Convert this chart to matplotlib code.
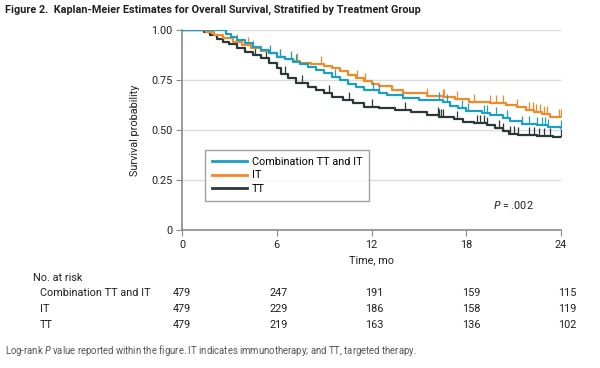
import matplotlib
matplotlib.use("Agg")
import matplotlib.pyplot as plt
import matplotlib.transforms as mtransforms
from matplotlib import font_manager
from matplotlib.textpath import TextPath
import numpy as np

# pick the narrowest available family
fam = "Roboto"
for cand in ["DejaVu Sans Condensed", "Liberation Sans Narrow", "Roboto"]:
    try:
        font_manager.findfont(font_manager.FontProperties(family=cand), fallback_to_default=False)
        fam = cand
        break
    except Exception:
        pass
plt.rcParams['font.family'] = [fam, 'DejaVu Sans']


def size_for(text, px, weight='normal'):
    w = TextPath((0, 0), text, size=10,
                 prop=font_manager.FontProperties(family=fam, weight=weight)).get_extents().width
    return 10 * (px * 72 / 100) / w


groups = ["Combination TT and IT", "IT", "TT"]
colors = {"Combination TT and IT": "#1b9fc2", "IT": "#f28a26", "TT": "#2b3838"}

combo_t = [0, 2.8, 3.1, 3.5, 4.0, 4.5, 5.0, 5.5, 6.0, 6.5, 7.0, 7.5, 8.0, 8.5, 9.0, 9.5, 10.0, 10.5, 11.0, 11.5, 12.5, 13.0, 14.0, 15.0, 16.5, 17.0, 17.5, 18.0, 19.0, 19.5, 20.3, 20.8, 21.5, 22.5, 23.2, 24.0]
combo_s = [1.0, 0.98, 0.965, 0.95, 0.935, 0.915, 0.90, 0.885, 0.865, 0.855, 0.84, 0.83, 0.815, 0.80, 0.785, 0.765, 0.75, 0.73, 0.715, 0.70, 0.683, 0.675, 0.66, 0.65, 0.64, 0.62, 0.61, 0.595, 0.585, 0.575, 0.56, 0.545, 0.53, 0.525, 0.515, 0.51]
combo_cens = [2.66, 5.6, 6.2, 6.9, 7.2, 9.7, 12.1, 12.5, 16.3, 16.8, 17.7, 18.1, 19.1, 19.3, 19.9, 20.6, 21.5, 22.0, 22.5, 22.8, 23.0, 23.2, 24.0]

it_t = [0, 1.5, 2.0, 2.6, 3.2, 3.8, 4.4, 5.0, 5.5, 6.0, 6.5, 7.0, 7.5, 8.2, 9.0, 9.5, 10.0, 10.5, 11.0, 11.5, 12.0, 12.5, 13.3, 14.0, 15.5, 16.5, 17.3, 18.2, 19.5, 20.5, 21.2, 21.8, 22.3, 22.8, 23.3, 24.0]
it_s = [1.0, 0.99, 0.975, 0.96, 0.94, 0.925, 0.91, 0.895, 0.885, 0.867, 0.855, 0.845, 0.835, 0.828, 0.82, 0.81, 0.795, 0.775, 0.76, 0.745, 0.73, 0.72, 0.70, 0.683, 0.672, 0.665, 0.655, 0.642, 0.633, 0.625, 0.615, 0.60, 0.59, 0.58, 0.567, 0.563]
it_cens = [3.46, 4.2, 4.5, 6.2, 7.3, 8.8, 11.1, 11.6, 15.5, 16.5, 16.6, 17.4, 18.5, 19.5, 19.9, 20.3, 21.2, 22.0, 22.2, 22.4, 22.7, 22.9, 23.1, 23.9, 24.0]

tt_t = [0, 1.4, 1.8, 2.2, 2.6, 3.0, 3.5, 4.0, 4.5, 5.0, 5.5, 6.0, 6.3, 6.7, 7.2, 8.0, 8.5, 9.0, 9.5, 10.2, 10.8, 11.5, 12.5, 13.5, 14.5, 15.5, 16.3, 17.2, 17.8, 18.5, 19.3, 19.8, 20.3, 20.7, 21.3, 22.5, 23.5, 24.0]
tt_s = [1.0, 0.99, 0.975, 0.955, 0.94, 0.93, 0.91, 0.89, 0.875, 0.86, 0.835, 0.81, 0.78, 0.76, 0.735, 0.715, 0.70, 0.683, 0.667, 0.65, 0.635, 0.617, 0.61, 0.60, 0.59, 0.575, 0.567, 0.555, 0.542, 0.535, 0.525, 0.51, 0.495, 0.48, 0.475, 0.47, 0.467, 0.465]
tt_cens = [4.6, 5.3, 6.5, 7.6, 9.3, 10.6, 12.0, 14.1, 16.2, 16.3, 16.4, 16.5, 17.4, 18.7, 18.9, 19.1, 19.3, 20.1, 20.3, 20.8, 21.0, 21.3, 22.0, 22.3, 22.6, 22.9, 23.3, 24.0]

curves = {
    "Combination TT and IT": (combo_t, combo_s, combo_cens),
    "IT": (it_t, it_s, it_cens),
    "TT": (tt_t, tt_s, tt_cens),
}

risk_times = [0, 6, 12, 18, 24]
risk_combo = [479, 247, 191, 159, 115]
risk_it = [479, 229, 186, 158, 119]
risk_tt = [479, 219, 163, 136, 102]
risk = {"Combination TT and IT": risk_combo, "IT": risk_it, "TT": risk_tt}

title = "Figure 2.  Kaplan-Meier Estimates for Overall Survival, Stratified by Treatment Group"
foot = "Log-rank P value reported within the figure. IT indicates immunotherapy; and TT, targeted therapy."

fs = size_for("Combination TT and IT", 110)
fs_title = size_for(title, 414, 'bold')
fs_foot = size_for(foot, 412)
txt = "#231f20"

fig = plt.figure(figsize=(6.0, 3.68), dpi=100)
ax = fig.add_axes([182/600, 1-230/368, (561-182)/600, 200/368])

for g in ["TT", "IT", "Combination TT and IT"]:
    t, s, c = curves[g]
    ax.step(t, s, where='post', color=colors[g], lw=1.6, label=g, zorder=3)
    idx = np.searchsorted(t, c, side='right') - 1
    cs = np.array(s)[idx]
    ax.plot(c, cs, linestyle='none', marker=2, markersize=6, markeredgewidth=0.9,
            color=colors[g], zorder=3)

ax.set_xlim(0, 24)
ax.set_ylim(0, 1.0)
ax.set_xticks(risk_times)
ax.set_yticks([0, 0.25, 0.5, 0.75, 1.0])
ax.set_yticklabels(["0", "0.25", "0.50", "0.75", "1.00"])
ax.yaxis.grid(True, color="#dcdcdc", lw=1.0)
ax.set_axisbelow(True)
for sp in ["top", "right"]:
    ax.spines[sp].set_visible(False)
for sp in ["left", "bottom"]:
    ax.spines[sp].set_color("#8a8a8a")
    ax.spines[sp].set_linewidth(1.2)
ax.tick_params(axis='both', colors="#8a8a8a", labelcolor=txt, labelsize=fs, length=4, pad=3)
ax.set_xlabel("Time, mo", fontsize=fs, color=txt, labelpad=4)
ax.set_ylabel("Survival probability", fontsize=fs, color=txt, labelpad=8)

handles, labels = ax.get_legend_handles_labels()
order = [labels.index(g) for g in groups]
leg = ax.legend([handles[i] for i in order], [labels[i] for i in order],
                loc='upper left', bbox_to_anchor=(0.061, 0.40), fontsize=fs,
                frameon=True, fancybox=False, edgecolor="#8a8a8a", handlelength=3.2,
                handletextpad=0.5, borderpad=0.6, labelspacing=0.35, borderaxespad=0)
leg.get_frame().set_linewidth(1.0)
for lh in leg.get_lines():
    lh.set_linewidth(2.0)

ax.text(22.3, 0.125, "$P$ = .002", fontsize=fs, ha='right', va='center', color=txt)

fig.text(5/600, 1-10/368, title, fontsize=fs_title, fontweight='bold', va='center', ha='left', color=txt)

trans = mtransforms.blended_transform_factory(ax.transData, fig.transFigure)
fig.text(33/600, 1-278/368, "No. at risk", fontsize=fs, va='center', ha='left', color=txt)
row_y = [293, 309, 325]
for g, yp in zip(groups, row_y):
    fig.text(40/600, 1-yp/368, g, fontsize=fs, va='center', ha='left', color=txt)
    for tt, n in zip(risk_times, risk[g]):
        fig.text(tt + 0.1 * tt / 6, 1-yp/368, str(n), transform=trans, fontsize=fs, va='center',
                 ha='center', color=txt)

fig.text(5/600, 1-350/368, "Log-rank $P$ value reported within the figure. IT indicates immunotherapy; and TT, targeted therapy.",
         fontsize=fs_foot, va='center', ha='left', color="#555555")

fig.savefig("out.png", dpi=100)
